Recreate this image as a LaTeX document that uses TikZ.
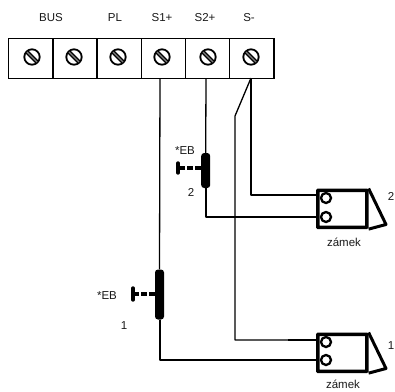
\documentclass[tikz,border=0pt]{standalone}
\usepackage{fontspec}
\setmainfont{Liberation Sans}
\tikzset{
  lbl/.style={inner sep=0pt,font=\fontsize{11.5}{13}\selectfont,text=black!90},
  term/.style={draw=black,line width=1.4pt,minimum width=44.2pt,minimum height=40pt,inner sep=0pt,anchor=north west},
  wirethin/.style={line width=1.3pt,line join=round},
  wiremid/.style={line width=2pt,line join=round},
  wirethick/.style={line width=2.6pt},
  lockbox/.style={draw=black,line width=3.6pt,minimum width=49pt,minimum height=37pt,inner sep=0pt,anchor=north west,rounded corners=0.5pt},
  lockcoil/.style={draw=black,line width=2.3pt,circle,minimum size=10pt,inner sep=0pt,fill=white},
  fuse/.style={fill=black,rounded corners=3pt,minimum width=9pt,inner sep=0pt},
  pushbar/.style={line width=3.4pt,line cap=round},
  pushrod/.style={line width=3.2pt,dash pattern=on 6pt off 2pt},
}
\newcommand{\screw}[1]{%
  \draw[line width=1.8pt] (#1) circle (7.7pt);
  \draw[line width=4pt] ([shift={(-5.2pt,5.2pt)}]#1) -- ([shift={(5.2pt,-5.2pt)}]#1);
  \draw[line width=1.4pt,black!50] ([shift={(-5pt,5pt)}]#1) -- ([shift={(5pt,-5pt)}]#1);
}
\begin{document}
\begin{tikzpicture}[x=1pt,y=-1pt]
\useasboundingbox (0,0) rectangle (395,391);
% terminal block
\node[term] (t1) at (8,38) {};
\node[term] (t2) at (52.2,38) {};
\node[term] (t3) at (96.4,38) {};
\node[term] (t4) at (140.6,38) {};
\node[term] (t5) at (184.8,38) {};
\node[term] (t6) at (229,38) {};
\coordinate (s1) at (32,57);
\coordinate (s2) at (74,57);
\coordinate (s3) at (118,57);
\coordinate (s4) at (162,57);
\coordinate (s5) at (208,57);
\coordinate (s6) at (251,57);
\screw{s1}\screw{s2}\screw{s3}\screw{s4}\screw{s5}\screw{s6}
% header labels
\node[lbl] (lbus) at (51,18) {BUS};
\node[lbl] (lpl) at (115,18) {PL};
\node[lbl] (ls1) at (162,18) {S1+};
\node[lbl] (ls2) at (205,18) {S2+};
\node[lbl] (ls) at (249,18) {S-};
% wire anchors
\coordinate (a1) at (160,78);
\coordinate (a2) at (206,78);
\coordinate (a3) at (251,78);
% locks
\node[lockbox] (lock2) at (316,188.5) {};
\node[lockbox] (lock1) at (316,332.5) {};
\node[lockcoil] (c21) at (326,198) {};
\node[lockcoil] (c22) at (326,217) {};
\node[lockcoil] (c11) at (326,342) {};
\node[lockcoil] (c12) at (326,360) {};
\draw[line width=3pt,line join=round] (lock2.north east) -- (386,224.5) -- (lock2.south east);
\draw[line width=3pt,line join=round] (lock1.north east) -- (386,368.5) -- (lock1.south east);
% fuses
\node[fuse,minimum height=35pt] (f2) at (205.7,170.5) {};
\node[fuse,minimum height=50pt] (f1) at (159.5,294.5) {};
% wires
\draw[wirethin] (a1) -- (f1.north);
\draw[wiremid] (f1.south) |- (lock1.west |- c12);
\draw[wirethin] (a2) -- (f2.north);
\draw[wiremid] (f2.south) |- (lock2.west |- c22);
\coordinate (j2) at (288,195);
\coordinate (j1) at (288,340);
\coordinate (k) at (235,116);
\draw[wirethin] (a3) |- (j2);
\draw[wirethick] (j2) -- (lock2.west |- j2);
\draw[wirethin] (a3) -- (k) |- (j1);
\draw[wirethick] (j1) -- (lock1.west |- j1);
% push buttons
\coordinate (b2) at (178,168);
\coordinate (b1) at (133,294);
\draw[pushrod] (f2.west |- b2) -- (b2);
\draw[pushbar] (178,163) -- (178,173);
\draw[pushrod] (f1.west |- b1) -- (b1);
\draw[pushbar] (133,288) -- (133,300);
% labels
\node[lbl] (eb2) at (185,151) {*EB};
\node[lbl] (n2) at (191,192) {2};
\node[lbl] (eb1) at (107,296) {*EB};
\node[lbl] (n1) at (124,326) {1};
\node[lbl] (z2) at (344,242) {zámek};
\node[lbl] (z1) at (343,384) {zámek};
\node[lbl] (m2) at (391,196) {2};
\node[lbl] (m1) at (391,346) {1};
\end{tikzpicture}
\end{document}
